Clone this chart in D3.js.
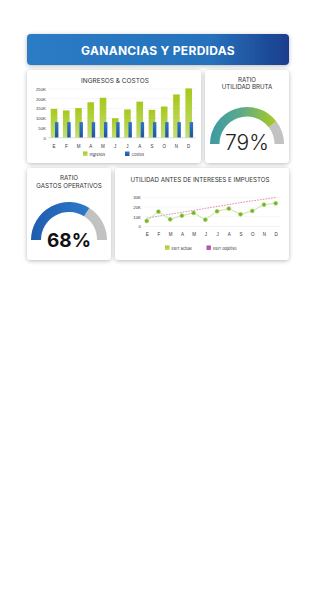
<!DOCTYPE html>
<html>
<head>
<meta charset="utf-8">
<style>
  html, body { margin: 0; padding: 0; background: #fff; }
  svg { display: block; font-family: Inter, "Open Sans", sans-serif; }
</style>
</head>
<body>
<svg width="320" height="598"></svg>
<script src="https://d3js.org/d3.v7.min.js"></script>
<script>

// data
var months = ["E", "F", "M", "A", "M", "J", "J", "A", "S", "O", "N", "D"];
var ingresos = [148, 140, 152, 182, 205, 100, 145, 185, 143, 160, 222, 253];
var costos = [80, 80, 80, 80, 80, 80, 80, 80, 80, 80, 80, 80];
var barTicks = [0, 50, 100, 150, 200, 250];
var ebitActual = [5.5, 15.2, 7.2, 11, 13.8, 6.9, 15.5, 18.3, 12.4, 15.9, 22.4, 23.8];
var ebitObjetivo = [8.5, 10.5, 12.5, 14.5, 16.5, 18.5, 20.5, 22.5, 24.5, 26.3, 28, 29.7];
var lineTicks = [0, 10, 20, 30];
var utilidadBruta = 0.79;
var gastosOperativos = 0.68;

var svg = d3.select("svg");
var defs = svg.append("defs");

var shadow = defs.append("filter").attr("id", "shadow")
    .attr("x", "-20%").attr("y", "-20%").attr("width", "140%").attr("height", "140%");
shadow.append("feDropShadow").attr("dx", 0).attr("dy", 1)
    .attr("stdDeviation", 2).attr("flood-color", "#000").attr("flood-opacity", 0.28);

function grad(id, stops, x1, y1, x2, y2, units) {
	var g = defs.append("linearGradient").attr("id", id)
		.attr("x1", x1).attr("y1", y1).attr("x2", x2).attr("y2", y2);
	if (units) g.attr("gradientUnits", units);
	stops.forEach(function(s) {
		g.append("stop").attr("offset", s[0]).attr("stop-color", s[1]);
	});
}
grad("hdr", [[0, "#2b7bc5"], [0.7, "#2672bc"], [1, "#1b3d8c"]], 0, 0, 1, 0);
grad("green", [[0, "#a7c81c"], [1, "#c2de70"]], 0, 0, 0, 1);
grad("blue", [[0, "#2f74c4"], [1, "#1d56a6"]], 0, 0, 0, 1);
grad("obj", [[0, "#6f8fd6"], [0.25, "#e06aa8"], [1, "#ee5c94"]], 0, 0, 1, 0);
grad("legObj", [[0, "#7a5fc8"], [1, "#e8569a"]], 0, 0, 1, 1);

// header
svg.append("rect").attr("x", 27).attr("y", 34).attr("width", 262).attr("height", 31)
    .attr("rx", 4).attr("fill", "url(#hdr)").attr("filter", "url(#shadow)");
svg.append("text").attr("x", 158).attr("y", 54.5).attr("text-anchor", "middle")
    .attr("fill", "#fff").attr("font-size", 12).attr("font-weight", 700)
    .attr("letter-spacing", 0.3).text("GANANCIAS Y PERDIDAS");

// cards
var cards = [[27, 70, 174, 93], [205, 70, 84, 93], [27, 168, 84, 92], [115, 168, 174, 92]];
svg.selectAll(".card").data(cards).enter().append("rect").attr("class", "card")
    .attr("x", function(d) { return d[0]; }).attr("y", function(d) { return d[1]; })
    .attr("width", function(d) { return d[2]; }).attr("height", function(d) { return d[3]; })
    .attr("rx", 4).attr("fill", "#fff").attr("filter", "url(#shadow)");

function title(x, y, lines, size) {
	var t = svg.append("text").attr("x", x).attr("y", y).attr("text-anchor", "middle")
		.attr("fill", "#333").attr("font-size", size).attr("font-weight", 400);
	lines.forEach(function(l, i) {
		t.append("tspan").attr("x", x).attr("dy", i ? size * 1.25 : 0).text(l);
	});
}

// ---- bar chart
title(115, 83, ["INGRESOS & COSTOS"], 6.5);

var xb = d3.scaleBand().domain(d3.range(12)).range([47.9, 194.8]);
var yb = d3.scaleLinear().domain([0, 250]).range([137.7, 89]);

var gb = svg.append("g");
gb.selectAll(".grid").data(barTicks).enter().append("line")
    .attr("x1", 48).attr("x2", 196)
    .attr("y1", function(d) { return yb(d); }).attr("y2", function(d) { return yb(d); })
    .attr("stroke", "#eee").attr("stroke-width", 0.5);

var yAxisB = gb.append("g").attr("transform", "translate(47,0)")
    .call(d3.axisLeft(yb).tickValues(barTicks).tickSize(0).tickPadding(1)
        .tickFormat(function(d) { return d ? d + "K" : "0"; }));
yAxisB.select(".domain").remove();
yAxisB.selectAll("text").attr("font-size", 4.3).attr("fill", "#333").attr("font-family", null);

gb.selectAll(".ing").data(ingresos).enter().append("rect")
    .attr("x", function(d, i) { return xb(i) + xb.bandwidth() / 2 - 3.3; })
    .attr("y", function(d) { return yb(d); })
    .attr("width", 6.6).attr("height", function(d) { return yb(0) - yb(d); })
    .attr("fill", "url(#green)");
gb.selectAll(".cos").data(costos).enter().append("rect")
    .attr("x", function(d, i) { return xb(i) + xb.bandwidth() / 2 + 1; })
    .attr("y", function(d) { return yb(d); })
    .attr("width", 3.4).attr("height", function(d) { return yb(0) - yb(d); })
    .attr("fill", "url(#blue)");

gb.append("line").attr("x1", 48).attr("x2", 196).attr("y1", yb(0)).attr("y2", yb(0))
    .attr("stroke", "#ccc").attr("stroke-width", 0.5);

var xAxisB = gb.append("g").attr("transform", "translate(0," + (yb(0) + 4) + ")")
    .call(d3.axisBottom(xb).tickSize(0).tickFormat(function(i) { return months[i]; }));
xAxisB.select(".domain").remove();
xAxisB.selectAll("text").attr("font-size", 4.5).attr("fill", "#333").attr("font-family", null);

// legend
gb.append("rect").attr("x", 83).attr("y", 151.5).attr("width", 4.5).attr("height", 4.5).attr("fill", "url(#green)");
gb.append("text").attr("x", 89.5).attr("y", 155.5).attr("font-size", 3.8).attr("fill", "#333").text("Ingresos");
gb.append("rect").attr("x", 125).attr("y", 151.5).attr("width", 4.5).attr("height", 4.5).attr("fill", "url(#blue)");
gb.append("text").attr("x", 131.5).attr("y", 155.5).attr("font-size", 3.8).attr("fill", "#333").text("Costos");

// ---- gauges (gradient runs from the left end of the arc to the end of the value)
function gauge(cx, cy, ro, ri, value, id, stops, weight, size, color, ty) {
	var a0 = -Math.PI / 2, a1 = a0 + Math.PI * value;
	grad(id, stops, -ro, 0, ro * Math.sin(a1), 0, "userSpaceOnUse");
	var arc = d3.arc().innerRadius(ri).outerRadius(ro);
	var g = svg.append("g").attr("transform", "translate(" + cx + "," + cy + ")");
	g.append("path").attr("d", arc({startAngle: a1, endAngle: Math.PI / 2})).attr("fill", "#c2c2c2");
	g.append("path").attr("d", arc({startAngle: a0, endAngle: a1})).attr("fill", "url(#" + id + ")");
	svg.append("text").attr("x", cx).attr("y", ty).attr("text-anchor", "middle")
		.attr("font-size", size).attr("font-weight", weight).attr("fill", color)
		.text(Math.round(value * 100) + "%");
}

title(247, 81.5, ["RATIO", "UTILIDAD BRUTA"], 6.2);
gauge(247, 144, 37, 27.5, utilidadBruta, "gUB", [[0, "#3b9aa4"], [0.45, "#5aa98c"], [1, "#a9cb22"]],
      300, 21, "#222", 149.5);

title(69, 180, ["RATIO", "GASTOS OPERATIVOS"], 6.2);
gauge(69, 240, 38, 28, gastosOperativos, "gGO", [[0, "#1f5cb0"], [1, "#2f7ac8"]],
      700, 19, "#111", 247);

// ---- line chart
title(200, 181.5, ["UTILIDAD ANTES DE INTERESES E IMPUESTOS"], 6.2);

var xl = d3.scalePoint().domain(d3.range(12)).range([146.7, 275.7]);
var yl = d3.scaleLinear().domain([0, 30]).range([226.3, 197.3]);

var gl = svg.append("g");
gl.selectAll(".grid").data(lineTicks.slice(1)).enter().append("line")
    .attr("x1", 144).attr("x2", 280)
    .attr("y1", function(d) { return yl(d); }).attr("y2", function(d) { return yl(d); })
    .attr("stroke", "#eee").attr("stroke-width", 0.5);
gl.append("line").attr("x1", 144).attr("x2", 280).attr("y1", yl(0)).attr("y2", yl(0))
    .attr("stroke", "#ddd").attr("stroke-width", 0.5);

var yAxisL = gl.append("g").attr("transform", "translate(141,0)")
    .call(d3.axisLeft(yl).tickValues(lineTicks).tickSize(0).tickPadding(0)
        .tickFormat(function(d) { return d ? d + "K" : "0"; }));
yAxisL.select(".domain").remove();
yAxisL.selectAll("text").attr("font-size", 4.3).attr("fill", "#333").attr("font-family", null);

var xAxisL = gl.append("g").attr("transform", "translate(0," + (yl(0) + 4) + ")")
    .call(d3.axisBottom(xl).tickSize(0).tickFormat(function(i) { return months[i]; }));
xAxisL.select(".domain").remove();
xAxisL.selectAll("text").attr("font-size", 4.5).attr("fill", "#333").attr("font-family", null);

var line = d3.line().x(function(d, i) { return xl(i); }).y(function(d) { return yl(d); });

gl.append("path").attr("d", line(ebitObjetivo)).attr("fill", "none")
    .attr("stroke", "url(#obj)").attr("stroke-width", 0.8).attr("stroke-dasharray", "1.6,1.2");
gl.append("path").attr("d", line(ebitActual)).attr("fill", "none")
    .attr("stroke", "#c5e08a").attr("stroke-width", 0.9);
gl.selectAll(".pt").data(ebitActual).enter().append("circle")
    .attr("cx", function(d, i) { return xl(i); }).attr("cy", function(d) { return yl(d); })
    .attr("r", 1.9).attr("fill", "#6cb23a").attr("stroke", "#a6d04a").attr("stroke-width", 0.8);

gl.append("rect").attr("x", 165).attr("y", 245.5).attr("width", 4.5).attr("height", 4.5).attr("fill", "url(#green)");
gl.append("text").attr("x", 171.5).attr("y", 249.5).attr("font-size", 3.8).attr("fill", "#333").text("EBIT actual");
gl.append("rect").attr("x", 206.5).attr("y", 245.5).attr("width", 4.5).attr("height", 4.5).attr("fill", "url(#legObj)");
gl.append("text").attr("x", 213).attr("y", 249.5).attr("font-size", 3.8).attr("fill", "#333").text("EBIT objetivo");

</script>
</body>
</html>
